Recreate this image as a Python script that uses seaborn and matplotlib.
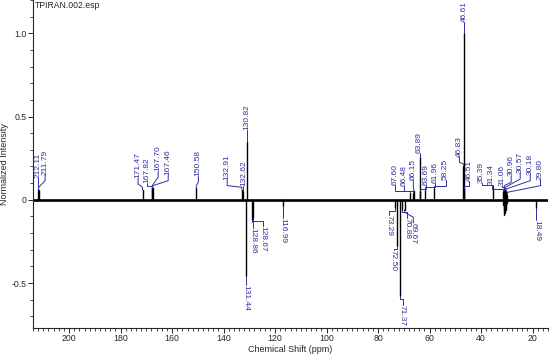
import numpy as np
import pandas as pd
import matplotlib
matplotlib.use('Agg')
import matplotlib.pyplot as plt
from matplotlib.ticker import MultipleLocator
import seaborn as sns

# ---- peak list (ppm, normalized intensity) ----
pos_ppm = [212.11, 211.79, 171.47, 167.82, 167.70, 167.46, 150.58, 132.91, 132.62, 130.82,
           67.60, 66.48, 66.15, 63.89, 63.69, 61.96, 58.25, 46.83, 46.61, 46.51,
           35.39, 31.34, 31.06, 30.96, 30.57, 30.18, 29.80]
pos_int = [0.06, 0.06, 0.06, 0.07, 0.07, 0.07, 0.07, 0.06, 0.05, 0.35,
           0.04, 0.04, 0.05, 0.26, 0.05, 0.06, 0.07, 0.20, 1.00, 0.07,
           0.075, 0.05, 0.06, 0.07, 0.06, 0.05, 0.03]

neg_ppm = [131.44, 128.86, 128.67, 116.99, 73.29, 72.50, 71.37, 70.88, 69.67, 18.49]
neg_int = [-0.46, -0.12, -0.11, -0.04, -0.05, -0.28, -0.58, -0.06, -0.06, -0.05]

# unlabelled solvent multiplet around 30.7 ppm
solv_ppm = [31.3, 31.1, 30.9, 30.7, 30.5, 30.3, 30.1]
solv_int = [-0.03, -0.06, -0.09, -0.08, -0.06, -0.04, -0.02]

# ---- label layout (where the software put each label) ----
pos_lab_x = [212.11, 209.3, 173.2, 169.7, 165.4, 161.5, 149.8, 138.6, 132.3, 130.82,
             73.3, 69.8, 66.3, 63.89, 61.2, 57.7, 53.8, 48.4, 46.61, 44.5,
             39.8, 35.9, 31.8, 28.3, 24.8, 20.9, 16.9]
pos_lab_y = [0.13, 0.15, 0.13, 0.10, 0.17, 0.15, 0.14, 0.12, 0.08, 0.42,
             0.09, 0.08, 0.12, 0.28, 0.09, 0.10, 0.12, 0.26, 1.066, 0.11,
             0.10, 0.09, 0.08, 0.14, 0.16, 0.15, 0.12]
neg_lab_x = [131.44, 128.5, 124.6, 116.99, 75.6, 74.0, 70.5, 68.6, 66.3, 18.49]
neg_lab_y = [-0.51, -0.17, -0.16, -0.11, -0.09, -0.30, -0.63, -0.11, -0.14, -0.12]

sns.set_style('ticks')
plt.rcParams['font.family'] = ['Liberation Sans', 'DejaVu Sans']
plt.rcParams['axes.unicode_minus'] = False

BLUE = '#30309e'

peaks = pd.DataFrame({'ppm': pos_ppm + neg_ppm + solv_ppm,
                      'intensity': pos_int + neg_int + solv_int}).reset_index(names='peak')
sticks = pd.concat([peaks.assign(intensity=0.0), peaks], ignore_index=True)

fig = plt.figure(figsize=(5.5, 3.55), dpi=100)
ax = fig.add_axes([33 / 550, 27 / 355, 515 / 550, 328 / 355])

ax.axhline(0, color='black', lw=1.9, zorder=2)
sns.lineplot(data=sticks, x='ppm', y='intensity', units='peak', estimator=None,
             sort=False, color='black', lw=1.0, ax=ax, zorder=3)


def leader(p, h, lx, ly, sign):
    # peak top -> short rise -> bend -> short vertical into the label
    k1 = h + sign * 0.015
    k2 = ly - sign * 0.035
    if sign * (k2 - k1) < 0:
        k2 = k1
    ax.plot([p, p, lx, lx], [h, k1, k2, ly], color=BLUE, lw=0.7, zorder=4)


for p, h, lx, ly in zip(pos_ppm, pos_int, pos_lab_x, pos_lab_y):
    leader(p, h, lx, ly, 1)
    ax.text(lx, ly, f'{p:.2f}', rotation=90, ha='center', va='bottom',
            fontsize=6, color=BLUE, zorder=5)

for p, h, lx, ly in zip(neg_ppm, neg_int, neg_lab_x, neg_lab_y):
    leader(p, h, lx, ly, -1)
    ax.text(lx, ly, f'{p:.2f}', rotation=-90, ha='center', va='top',
            fontsize=6, color=BLUE, zorder=5)

ax.set_xlim(214, 14)
ax.set_ylim(-0.77, 1.2)
ax.set_xticks(np.arange(200, 19, -20))
ax.xaxis.set_minor_locator(MultipleLocator(2))
ax.set_yticks([-0.5, 0, 0.5, 1.0], labels=['-0.5', '0', '0.5', '1.0'])
ax.yaxis.set_minor_locator(MultipleLocator(0.1))
ax.tick_params(which='major', length=3.6, width=0.7, pad=1, labelsize=6.3, direction='out')
ax.tick_params(which='minor', length=2.2, width=0.6, direction='out')
sns.despine(ax=ax)
for s in ['left', 'bottom']:
    ax.spines[s].set_linewidth(0.8)

ax.set_xlabel('Chemical Shift (ppm)', fontsize=6.5, labelpad=1)
ax.set_ylabel('Normalized Intensity', fontsize=6.5, labelpad=2)
ax.text(0.004, 0.997, 'TPIRAN.002.esp', transform=ax.transAxes, ha='left', va='top',
        fontsize=6.2)

fig.savefig('out.png', dpi=100)
